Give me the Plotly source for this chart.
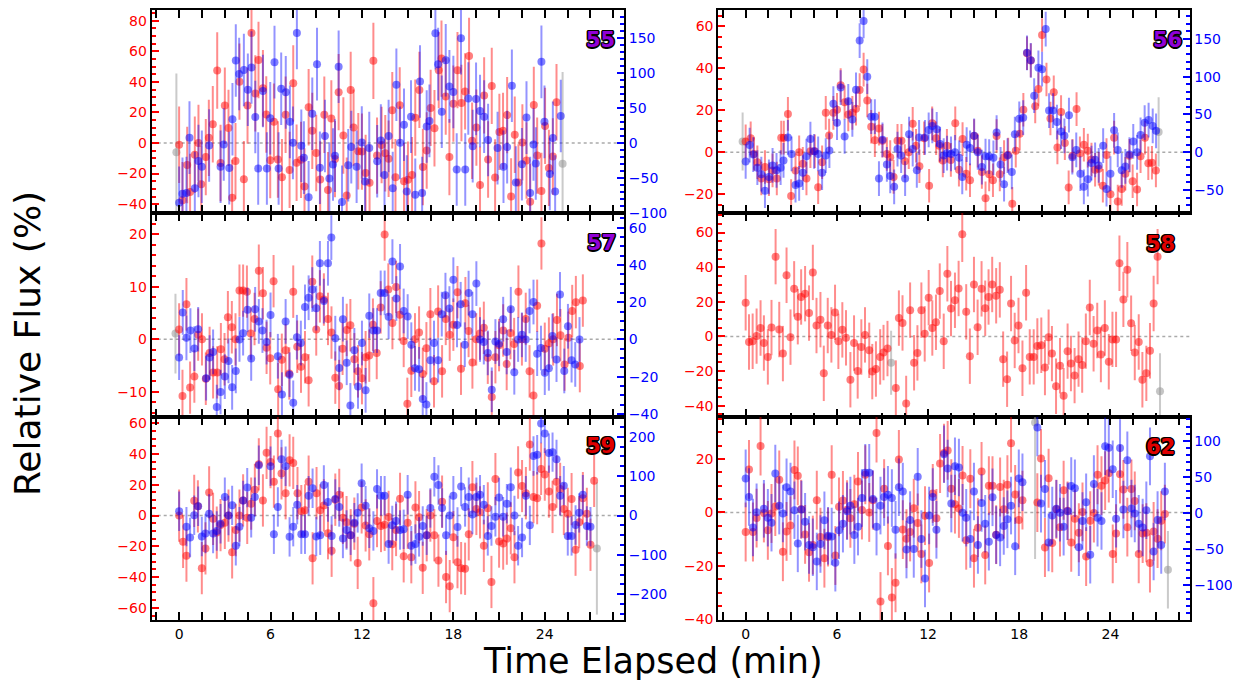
import plotly.graph_objects as go

# ---------------- data (time in min, relative flux in %) ----------------
PANELS = ["55", "56", "57", "58", "59", "62"]

P55_RED_T = [0.0,0.22,0.53,0.72,1.03,1.27,1.45,1.75,1.95,2.21,2.5,2.72,3.0,3.24,3.48,3.7,3.96,4.25,4.49,4.75,5.0,5.21,5.5,5.72,5.98,6.22,6.48,6.75,6.99,7.25,7.49,7.71,8.0,8.23,8.5,8.74,9.0,9.26,9.53,9.77,9.99,10.23,10.47,10.78,11.0,11.26,11.45,11.76,12.0,12.24,12.5,12.75,12.99,13.29,13.53,13.75,13.99,14.2,14.48,14.76,15.02,15.29,15.5,15.77,16.0,16.25,16.51,16.76,17.04,17.22,17.5,17.74,18.0,18.27,18.53,18.77,19.03,19.23,19.51,19.75,20.02,20.28,20.52,20.74,21.02,21.26,21.53,21.79,22.03,22.27,22.53,22.8,23.04,23.28,23.5,23.78,24.02,24.27,24.53,24.77]
P55_RED_F = [-1.1,-37.4,-14.4,-32,-7.7,0,-27,-9.2,3.4,12.3,47.5,-13.1,24.5,9.9,-35.9,-11.8,40.2,-23.7,24.5,72,32.5,54.4,35.9,18.7,-11.2,14,-10.8,-22.4,18.5,-17.6,39.1,-12.9,-11,-28.4,23.4,8,-6.5,-23.9,18.5,-30.8,16.1,-10.5,33.3,4.9,-34.4,34.8,10.1,-5.4,-5.6,-19.6,-26,53.8,-8.2,-1.3,-6.7,-10.3,21.5,-22.4,24.7,-25,-24,-21,16.6,34.8,-15.7,-4.9,23,9.7,47.7,55.3,30.5,-9.2,25.8,47.7,26.2,33.8,57,1.5,10.1,-27.5,31.2,-10.8,37.4,-22.6,7.3,8,18.3,-35,5.4,-25.8,0.4,-11.4,-38.5,24.9,-8.2,-31.4,11.2,-16.3,-8.8,26.7]
P55_BLUE_T = [0.0,0.22,0.48,0.68,1.03,1.27,1.49,1.97,2.72,2.93,3.29,3.5,3.72,3.94,4.25,4.51,4.75,5.0,5.19,5.5,5.76,5.98,6.26,6.53,6.7,7.0,7.27,7.47,7.73,8.02,8.19,8.5,8.74,9.05,9.24,9.57,9.86,10.1,10.23,10.47,10.69,11.1,11.3,11.65,11.99,12.2,12.48,13.0,13.24,13.48,13.75,14.02,14.26,14.5,14.76,14.94,15.22,15.5,15.81,15.95,16.25,16.43,16.82,17.0,17.24,17.5,17.74,18.0,18.22,18.5,18.78,18.98,19.27,19.49,19.75,20.02,20.28,20.9,21.29,21.53,21.84,22.1,22.5,22.8,23.04,23.26,23.41,23.78,23.98,24.33,24.53,24.68,25.05]
P55_BLUE_F = [-86,-72.9,-71.9,7.5,-64.9,-25.9,-34.3,-3.8,-34.3,-2.4,-36.2,33.9,118,98.7,104.4,76.2,108,37.1,-36.7,74.3,-36.7,35.3,115.7,-36.7,77.6,72.4,30.1,0,157.5,-4.2,-21.2,-78,41.8,112.8,-35.7,9.9,-51.2,-31,-18.3,109,-84.6,-32,-6.1,-34.3,0.5,-55.5,-7.5,-26.3,3.3,-46,9.9,-64.9,83.2,0,25.9,-69.6,37.6,-74.3,87.9,-71.9,23.5,31.5,157,112.8,44.7,118.5,80.9,72.9,-38.1,150,-38.1,63.5,-4.7,63,45.6,37.6,4.2,-7.5,-34.3,-6.1,81.8,-56.9,-30.6,36.2,-71.9,-2.4,-29.6,116.1,30.1,-44.7,7.1,-69.6,38.6]
P55_GRAY_T = [-0.18, 25.17]
P55_GRAY_F = [-6.0, -13.5]
P55_GRAY_E = [51.6, 60.0]

P56_RED_T = [0.0,0.33,0.55,0.77,1.03,1.27,1.53,1.77,2.05,2.34,2.51,2.78,2.99,3.28,3.52,3.76,4.0,4.26,4.55,4.77,5.03,5.27,5.49,5.77,6.01,6.25,6.51,6.75,7.02,7.26,7.5,7.76,8.0,8.26,8.5,8.77,9.0,9.29,9.51,9.73,9.99,10.25,10.47,10.73,10.99,11.21,11.43,
             11.74,12.07,12.27,12.53,12.75,12.97,13.24,13.5,13.79,14.03,14.27,14.51,14.76,15.03,15.27,15.54,15.78,16.02,16.27,16.51,16.72,17.0,17.27,17.54,17.77,18.03,18.27,18.51,18.76,19.05,19.26,19.5,19.79,20.05,20.27,20.51,20.75,21.0,21.25,21.5,21.77,21.99,22.25,22.51,22.75,22.99,23.23,23.5,23.74,24.0,24.24,24.48,24.74,24.98,25.25,25.46,25.75,25.98,26.27,26.49,26.73,26.99]
P56_RED_F = [5.2,6.7,-0.8,-4.7,-12.5,-7,-12.8,-8.6,-12.5,7,7,18.3,-20.8,-8.6,0,-5.5,-12.5,0.5,0.5,-16.6,-4.7,18.8,8,18.8,20.3,32,23.8,18,18.8,20.8,29.7,39.4,24.7,12.2,5.8,11.3,5.5,-0.8,-2.3,-11.7,5.5,5.5,-4.2,0,13.6,3.1,-6.6,
             6.7,-15.9,13.8,6.7,3.1,-3.9,3.1,-3.6,13.8,-8.3,6.3,-10.2,-13.3,7.8,0.8,-9.4,-21.9,-10.5,-13.3,7.8,-10.5,-2.3,-1.1,-24.5,0.8,8.9,20.3,47.2,43.8,21.9,30.2,55.9,34.7,16.1,28.6,2.3,19.2,4.4,-16.7,-1.6,20.6,-0.5,3.6,0.8,-3.4,-8.3,-7.8,-15.9,-1.3,-20,7,-23.4,-17.5,-10.2,-1.6,-13.8,-17.7,-1.9,7,-5.2,-5,-8.6]
P56_BLUE_T = [0.0,0.26,0.5,0.77,1.03,1.27,1.53,1.77,2.03,2.3,2.49,2.78,3.02,3.28,3.52,3.76,4.0,4.26,4.5,4.77,5.03,5.27,5.51,5.77,6.01,6.25,6.51,6.75,7.02,7.26,7.5,7.76,8.0,8.26,8.5,8.77,9.0,9.29,9.51,9.77,9.99,10.23,10.49,10.75,10.99,11.26,11.41,
              11.8,12.04,12.28,12.57,12.79,13.03,13.25,13.51,13.77,14.05,14.25,14.54,14.76,15.03,15.27,15.54,15.78,16.02,16.3,16.51,16.77,17.0,17.23,17.51,17.71,18.0,18.26,18.51,18.76,18.98,19.26,19.5,19.74,19.96,20.22,20.48,20.75,20.97,21.27,21.49,21.75,22.02,22.25,22.51,22.75,22.99,23.23,23.52,23.74,24.0,24.24,24.48,24.74,24.98,25.25,25.5,25.75,25.98,26.25,26.51,26.78,27.0]
P56_BLUE_F = [-12.2,9.6,-3,-20.4,-29.1,-50.9,-32.6,-17.4,-23.9,-20.4,-10.9,19.6,-2.2,-43.5,-41.3,-27,-5.2,17.4,1.3,-2.2,-27,-4.3,2.2,64.3,39.1,85.7,20.9,67.4,43.5,82.6,147.8,173.9,100,47,47,-34.8,16.5,-16.1,-31.3,-45.7,4.3,-4.3,-34.8,23.9,4.3,-23.9,19.6,
              19.6,29.6,34.8,30.4,10.9,-4.3,-1.3,-2.2,0,-7.4,-32.6,10,5.7,21.7,0,-19.6,-5.2,-5.7,-7.4,26.1,-16.1,-42.2,-4.3,-26.1,23.9,44.3,45.7,131.7,121.7,74.8,111.7,110,163,55.2,55.2,40,27.4,21.7,49.1,-6.5,3,-28.3,-45.7,-35.7,-14.3,-10,-17.4,8.7,-48.7,-28.3,29.1,3,-23.9,-18.7,-3,14.3,0,23,39.1,42.6,34.8,28.3]
P56_GRAY_T = [-0.2, 27.17]
P56_GRAY_F = [5.2, 9.7]
P56_GRAY_E = [13.8, 16.5]

P57_RED_T = [0.0,0.22,0.48,0.72,1.0,1.25,1.5,1.75,2.0,2.23,2.5,2.74,2.98,3.2,3.46,3.7,3.96,4.2,4.45,4.7,4.95,5.23,5.5,5.74,5.98,6.2,6.5,6.74,6.99,7.23,7.49,7.75,8.0,8.26,8.5,8.74,9.0,9.24,9.5,9.77,10.0,10.25,10.5,10.73,11.0,11.24,11.5,11.74,12.0,12.24,12.48,12.72,12.97,13.23,13.49,13.73,14.0,14.24,14.48,14.74,14.98,15.24,15.48,15.75,15.99,16.23,16.49,16.73,17.0,17.26,17.5,17.76,18.0,18.27,18.5,18.79,19.0,19.25,19.5,19.75,20.0,20.26,20.52,20.76,21.0,21.27,21.5,21.75,21.99,22.27,22.5,22.75,23.0,23.26,23.5,23.78,24.0,24.27,24.55,24.8,25.03,25.3,25.55,25.8,26.04,26.3,26.5]
P57_RED_F = [1.9,-10.8,6.7,-9.2,-7.1,0.9,0,-7.5,-2.6,-6.3,-6.3,-1.9,-3.8,4.2,2.3,0,9.3,9.3,9.1,1.1,3.9,13.1,8.8,-1.6,-3.6,11.1,-9.5,-3.9,-2.1,-6.5,9.1,-1.4,-5.2,-3.4,-7.8,11.0,1.9,8.2,7.6,3.9,1.3,-7.3,-8.9,-1.8,1.8,2.7,-3.8,-6.1,-7.4,-3.4,-3.1,2.8,-2.6,6.1,20.0,9.5,3.1,10.0,4.7,-0.3,-12.3,-6.0,0,1.3,-6.6,-1.7,4.8,-8.0,5.3,-6.1,3.9,0.9,2.8,9.0,-5.6,6.9,1.6,-4.4,0,1.1,2.2,-3.5,-11.0,-3.4,-1.1,1.7,-4.7,1.2,-0.9,9.1,0,3.9,-6.1,-10.7,6.4,18.3,-1.8,-0.8,0,3.7,0.8,-4.8,0.3,5.4,7.1,-5.1,7.4]
P57_BLUE_T = [0.0,0.24,0.48,0.74,1.0,1.25,1.77,2.0,2.23,2.47,2.72,3.0,3.24,3.48,3.72,3.96,4.2,4.49,4.73,4.99,5.23,5.47,5.74,6.0,6.48,6.75,6.99,7.25,7.49,7.73,7.99,8.26,8.5,8.74,9.0,9.24,9.5,9.77,9.99,10.25,10.51,10.75,11.0,11.24,11.5,11.74,12.0,12.24,12.48,12.75,12.99,13.23,13.49,13.75,14.0,14.26,14.5,14.74,15.0,15.24,15.48,15.75,15.99,16.23,16.49,16.73,17.0,17.24,17.48,17.74,18.0,18.24,18.48,18.75,19.0,19.25,19.51,19.75,20.0,20.26,20.52,20.76,21.0,21.27,21.5,21.77,22.0,22.25,22.5,22.75,23.0,23.26,23.5,23.75,24.0,24.27,24.5,24.77,25.0,25.28,25.52,25.76,26.0,26.28]
P57_BLUE_F = [-9.7,14.5,0.9,4.8,-4.9,5.5,-20.8,-9.7,-6.7,-36.3,-28.2,-19.9,-11.5,-25.7,-16.9,0,3.4,15.9,-10.2,16.2,9.7,4.8,-1.4,13.2,-9.0,-29.6,9.7,-18.9,-34.0,1.2,-1.9,17.5,22.4,26.8,16.8,40.9,20.6,40.9,54.7,0.7,-15.3,10.9,-12.5,-35.4,-5.8,-25.2,-1.9,-27.3,12.7,4.8,4.8,25.0,25.0,12.2,41.8,22.0,39.2,15.3,12.3,-2.8,-15.5,-16.0,-31.9,-34.9,-11.1,-1.9,-11.1,13.6,23.8,16.6,32.1,7.8,18.9,-2.8,24.9,13.6,30.0,0,-1.4,-7.2,-27.0,-1.1,-2.3,10.9,-6.7,16.2,-17.6,0,2.5,0,15.3,20.1,-7.6,-4.6,-17.8,-15.5,1.8,-10.8,24.2,-16.9,7.1,-11.1,-13.4,0]
P57_GRAY_T = [-0.24]
P57_GRAY_F = [1.1]
P57_GRAY_E = [7.6]

P58_RED_T = [0.0,0.22,0.46,0.72,0.98,1.2,1.46,1.7,1.97,2.21,2.45,2.69,2.95,3.19,3.43,3.65,3.91,4.17,4.42,4.66,4.92,5.14,5.4,5.64,5.88,6.1,6.36,6.6,6.89,7.13,7.37,7.61,7.85,8.13,8.33,8.57,8.85,9.07,9.33,9.88,10.08,10.32,10.56,10.82,11.08,11.3,11.56,11.78,12.04,12.28,12.52,12.77,13.03,13.27,13.51,13.77,14.01,14.25,14.51,14.75,15.02,15.26,15.52,15.76,15.98,16.22,16.48,16.72,16.94,17.2,17.46,17.7,17.95,18.21,18.45,18.69,18.95,19.19,19.45,19.69,19.93,20.15,20.42,20.68,20.92,21.18,21.4,21.64,21.9,22.14,22.38,22.64,22.89,23.13,23.37,23.63,23.89,24.13,24.37,24.59,24.85,25.11,25.36,25.6,25.86,26.1,26.36,26.6,26.84,27.1]
P58_RED_F = [19.5,-3.2,-2.8,0.2,4.9,-3.8,-11.8,5.1,46.1,4.0,-9.9,35.3,-0.4,27.5,11.4,22.8,24.7,13.5,37.0,6.3,9.7,-21.3,6.3,0.9,13.9,-2.8,3.8,-0.8,-25.0,-3.8,-19.9,-6.1,0.9,-8.0,-20.3,-18.8,-11.8,-9.3,-7.0,-29.8,10.6,7.8,-38.7,15.2,-15.2,-9.5,15.2,1.5,22.4,4.9,8.2,26.2,-2.8,36.2,16.1,20.9,27.7,59.0,14.2,-11.4,30.0,5.3,27.5,16.3,22.8,30.0,23.5,26.9,-13.1,-24.7,19.0,-2.3,6.3,-18.4,25.2,-11.8,-11.8,-5.5,-5.1,-18.0,-0.4,-9.9,-28.8,-16.9,-34.2,-8.5,-15.6,-22.6,-13.1,-16.5,-2.7,16.7,-4.2,3.4,-10.4,4.9,-14.6,-1.7,-1.7,42.3,21.4,38.5,7.6,-9.3,-3.2,-25.0,-21.3,-8.3,19.0,46.1]
P58_BLUE_T = []
P58_BLUE_F = []
P58_GRAY_T = [9.57, 27.26]
P58_GRAY_F = [-15.2, -31.7]
P58_GRAY_E = [18.5, 22.0]

P59_RED_T = [0.0,0.26,0.48,0.99,1.23,1.49,1.73,1.97,2.23,2.47,2.72,3.0,3.24,3.48,3.72,3.96,4.2,4.47,4.73,4.97,5.23,5.5,5.74,6.0,6.22,6.48,6.72,6.99,7.25,7.49,7.77,8.02,8.26,8.5,8.76,9.02,9.26,9.5,9.77,10.01,10.25,10.51,10.75,10.99,11.26,11.5,11.72,11.98,12.24,12.48,12.75,12.99,13.25,13.49,13.75,13.99,14.24,14.5,14.74,15.0,15.24,15.51,15.75,15.99,16.25,16.49,16.75,17.02,17.26,17.52,17.76,18.0,18.27,18.51,18.77,19.01,19.25,19.51,19.75,20.0,20.26,20.5,20.76,21.0,21.27,21.51,21.77,22.01,22.25,22.51,22.76,23.02,23.26,23.5,23.76,24.0,24.27,24.51,24.77,25.01,25.25,25.51,25.76,26.02,26.26,26.5,26.76,27.0,27.24]
P59_RED_F = [0,-17.1,-26.1,9.6,6.0,-34.2,-21.4,15.0,-2.1,-11.1,-6.2,-4.7,0,-23.9,-9.4,0,9.8,-1.5,7.7,16.7,33.3,9.8,40.8,34.8,22,53.4,27.4,14.5,35.9,34.2,14.5,2.8,3.4,22,-27.8,14.5,3.4,6.6,-11.5,-22.9,10.3,13.5,-1.5,-4.3,-12.8,-5.3,-30.8,5.3,-6.4,-12.2,-57,-3.6,-6.8,-6.0,-0.9,-18.6,-9.4,10.9,-26.5,-4.7,-27.1,5.3,-1.1,-34,-12.8,0,-12.8,-29.3,9.0,-40,-45.9,-14.1,-30.3,-34.2,-34.6,-12.2,18.4,4.3,2.1,-19.7,4.7,-43.2,23.7,-16.9,-18.2,-15,-8.3,-27.1,28,19.2,14.5,46.2,12,11.3,30.3,26.7,15.6,5.6,22,17.3,4.3,1.1,10.7,-22.2,-4.3,11.3,1.1,-19,22.6]
P59_BLUE_T = [0.0,0.48,0.72,0.99,1.25,1.49,1.73,1.97,2.23,2.47,2.72,3.0,3.24,3.48,3.72,3.96,4.2,4.47,4.73,4.97,5.23,6.0,6.22,6.48,6.72,6.99,7.25,7.49,7.75,8.02,8.26,8.5,8.76,9.0,9.26,9.5,9.77,10.01,10.25,10.51,10.75,10.99,11.26,11.5,11.72,11.98,12.24,12.48,12.75,12.99,13.25,13.49,13.75,13.99,14.24,14.5,14.74,15.0,15.24,15.51,15.75,15.99,16.25,16.49,16.75,17.02,17.26,17.52,17.76,18.0,18.27,18.51,18.77,19.01,19.25,19.51,19.75,20.0,20.26,20.5,20.76,21.0,21.27,21.51,21.77,22.01,22.25,22.51,22.76,23.02,23.26,23.5,23.76,24.0,24.27,24.51,24.77,25.01,25.25,25.51,25.76,26.02,26.26,26.5,26.76,27.0]
P59_BLUE_F = [10.8,-28.3,-55.8,0.8,23.3,-53.3,-45.8,4.2,-45.8,-39.2,-20.8,46.7,0,25.8,-76.7,-28.3,38.3,70.8,-5.8,46.7,127.5,125,-47.5,21.7,142.5,125,-54.2,-28.3,27.5,-47.5,-47.5,50,69.2,-53.3,-50,77.5,34.2,-51.7,41.7,21.7,-58.3,-36.7,-50,-18.3,6.7,81.7,25,-32.5,-39.2,67.5,50,50,-72.5,-25,-14.2,-36.7,-35,52.5,-76.7,-72.5,-54.2,-26.7,-50,19.2,98.3,77.5,19.2,-50,0,50,-29.2,73.3,21.7,46.7,2.5,46.7,52.5,27.5,-51.7,-26.7,-3.3,45.8,-3.3,30,71.7,0,-76.7,-55.8,50,-25,150.8,154.2,233.3,208.3,158.3,160.8,142.5,50,75.8,-51.7,-51.7,-24.2,6.7,52.5,-26.7,-28.3]
P59_GRAY_T = [27.42]
P59_GRAY_F = [-21.4]
P59_GRAY_E = [43.0]

P62_RED_T = [0.0,0.22,0.48,0.72,0.98,1.2,1.46,1.7,1.95,2.21,2.45,2.69,2.95,3.21,3.43,3.65,3.91,4.17,4.42,4.68,4.92,5.18,5.42,5.66,5.9,6.14,6.4,6.67,6.89,7.15,7.39,7.65,7.87,8.13,8.37,8.61,8.87,9.11,9.36,9.62,9.86,10.08,10.34,10.58,10.82,11.06,11.32,11.56,11.8,12.07,12.31,12.55,12.79,13.05,13.29,13.53,13.77,14.03,14.27,14.51,14.78,15.02,15.28,15.52,15.76,16.0,16.24,16.48,16.74,16.98,17.22,17.46,17.73,17.97,18.21,19.19,19.43,19.69,19.93,20.17,20.44,20.68,20.92,21.18,21.42,21.66,21.92,22.16,22.4,22.67,22.91,23.15,23.41,23.65,23.89,24.15,24.37,24.63,24.85,25.11,25.38,25.6,25.86,26.12,26.36,26.6,26.84,27.1,27.34,27.58]
P62_RED_F = [-7.3,16.1,-7.3,-2.1,24.8,-0.2,-6.7,-0.4,2.2,12.2,-14.7,-7.1,-4.9,15.9,13.7,1.2,-8.2,-14.9,-12.2,4.6,-9.2,-17.1,-9.2,14.1,-16.1,2.1,4.5,1.0,-2.2,3.1,11.6,0.9,14.1,0,4.6,29.7,-33.3,8.9,-12.5,-31.8,-26.3,19.8,-6.4,-9.8,-7.3,1.6,-3.9,-15.5,-1.2,-18.9,7.1,-2.2,18.3,22.2,23.2,8.9,3.1,1.5,13.8,-10.4,12.6,-17.1,-5.7,15.3,-15.9,10.0,10.0,-8.3,9.5,1.2,10.4,25.9,6.7,-2.8,4.6,3.7,20.2,-13.1,12.8,-11.4,1.2,-5.5,8.3,0.6,-11.2,-2.4,-7.6,0.2,-16.5,-3.1,-0.2,14.1,10.0,11.9,14.7,-15.5,-7.9,14.3,8.6,-5.5,8.8,4.3,-15.5,-7.9,-7.6,-18.9,-7.1,-9.8,-3.1,-0.6]
P62_BLUE_T = [0.0,0.22,0.48,0.72,1.2,1.46,1.7,1.95,2.21,2.45,2.69,2.95,3.21,3.43,3.67,3.91,4.17,4.42,4.68,4.92,5.18,5.42,5.66,5.9,6.14,6.4,6.67,6.89,7.15,7.39,7.65,7.87,8.13,8.37,8.61,8.87,9.11,9.36,9.62,9.86,10.08,10.34,10.58,10.82,11.06,11.32,11.56,11.8,12.07,12.31,12.55,13.05,13.29,13.53,13.77,14.03,14.27,14.51,14.78,15.02,15.28,15.52,15.76,16.0,16.24,16.48,16.74,16.98,17.22,17.46,17.73,17.97,18.21,19.19,19.43,19.69,19.93,20.17,20.44,20.68,20.92,21.18,21.42,21.66,21.92,22.16,22.4,22.67,22.91,23.15,23.41,23.65,23.89,24.15,24.37,24.63,24.85,25.11,25.38,25.6,25.86,26.12,26.36,26.6,26.84,27.1,27.34,27.58]
P62_BLUE_F = [47.9,21.9,-20.5,0.9,5.5,-6.8,-13.7,54.8,10,-0.9,35.6,29.7,3.7,-42.5,4.6,-12.3,-44.7,-47.9,-67.6,-43.4,-10.5,-32,-32.9,-69.4,-24.2,-15.1,2.3,10,-31,-19.2,20.5,55.7,55.7,19.2,-19.2,10,21.9,25.1,20.5,-23.7,35.6,29.7,-51.1,-10,-50.2,50.2,-36.5,-91.3,-3.7,21.9,-23.7,81.3,61.6,12.8,64.8,63,0,-6.8,-36.5,29.7,-44.7,13.7,-15.1,-40.2,21.5,-31,-34.2,-18.3,-9.1,10,-46.6,47.9,42.5,118.7,12.8,33.3,-41.1,-3.7,5.5,0,-19.2,2.3,37.4,34.2,-47.9,-11.4,14.6,-58.4,40.2,-6.8,-11.4,92.7,90.4,60.7,-8.2,90,4.6,73.1,5.9,-0.9,-15.1,-20.5,3.7,78.5,-53.9,-10,-44.7,29.7]
P62_GRAY_T = [19.04, 27.78]
P62_GRAY_F = [33.6, -21.4]
P62_GRAY_E = [51.0, 14.5]

# typical 1-sigma uncertainties per panel (red: left axis, blue: right axis)
RED_ERR = [25, 8, 5, 16, 17, 11]
BLUE_ERR = [52, 23, 12, None, 50, 40]

SERIES = [
    (P55_RED_T, P55_RED_F, P55_BLUE_T, P55_BLUE_F, P55_GRAY_T, P55_GRAY_F, P55_GRAY_E),
    (P56_RED_T, P56_RED_F, P56_BLUE_T, P56_BLUE_F, P56_GRAY_T, P56_GRAY_F, P56_GRAY_E),
    (P57_RED_T, P57_RED_F, P57_BLUE_T, P57_BLUE_F, P57_GRAY_T, P57_GRAY_F, P57_GRAY_E),
    (P58_RED_T, P58_RED_F, P58_BLUE_T, P58_BLUE_F, P58_GRAY_T, P58_GRAY_F, P58_GRAY_E),
    (P59_RED_T, P59_RED_F, P59_BLUE_T, P59_BLUE_F, P59_GRAY_T, P59_GRAY_F, P59_GRAY_E),
    (P62_RED_T, P62_RED_F, P62_BLUE_T, P62_BLUE_F, P62_GRAY_T, P62_GRAY_F, P62_GRAY_E),
]

# ---------------- axes setup ----------------
X_RANGE = [-1.8, 29.2]
LEFT_RANGES = [[-45.8, 87.1], [-28.9, 67.8], [-14.8, 24.1], [-46.5, 71.3], [-67.9, 64.1], [-40.2, 35.7]]
RIGHT_RANGES = [[-100.5, 190.4], [-80.4, 188.3], [-41.6, 67.9], None, [-265, 250], [-149, 133.3]]
LEFT_DTICK = [20, 20, 10, 20, 20, 20]
LEFT_MINOR = [5, 5, 2, 5, 5, 5]
RIGHT_DTICK = [50, 50, 20, None, 100, 50]
RIGHT_MINOR = [10, 10, 5, None, 25, 10]
LABEL_COLORS = ["#9000d8", "#9000d8", "#9000d8", "#e00000", "#e00000", "#e00000"]

# the page body has an 8px margin, so the figure is placed 8px right/down
OFF = 8
W, H = 1240 - OFF, 693 - OFF


def fx(px):
    return (px - OFF) / W


def fy(py):
    return min(1.0, 1 - (py - OFF) / H)


COL_X = [[fx(151.7), fx(624.0)], [fx(718.3), fx(1189.5)]]
ROW_PX = [[7.3, 214.0], [214.0, 421.0], [421.0, 627.0]]
ROW_Y = [[fy(b), fy(t)] for t, b in ROW_PX]
LABEL_PX = [(600, 38), (1167, 38), (601, 244), (1160, 245), (600, 450), (1160, 451)]

RED = "rgba(255,0,0,0.5)"
RED_E = "rgba(255,0,0,0.45)"
BLUE = "rgba(0,0,255,0.5)"
BLUE_E = "rgba(0,0,255,0.42)"
GRAY = "rgba(150,150,150,0.55)"
GRAY_E = "rgba(150,150,150,0.5)"
FONT = "DejaVu Sans"

fig = go.Figure()
layout = dict(
    width=W, height=H, margin=dict(l=0, r=0, t=0, b=0),
    paper_bgcolor="white", plot_bgcolor="white", showlegend=False,
    font=dict(family=FONT, size=14, color="black"),
)
shapes = []
annotations = []

for i, pid in enumerate(PANELS):
    r, c = divmod(i, 2)
    xn, yl, yr = i + 1, 2 * i + 1, 2 * i + 2
    xref = "x" if xn == 1 else f"x{xn}"
    ylref = "y" if yl == 1 else f"y{yl}"
    yrref = f"y{yr}"

    layout["xaxis" if xn == 1 else f"xaxis{xn}"] = dict(
        domain=COL_X[c], anchor=ylref, range=X_RANGE, tick0=0, dtick=6,
        ticks="inside", ticklen=8, tickwidth=2, tickcolor="black",
        showline=True, linecolor="black", linewidth=2, mirror="allticks",
        showgrid=False, zeroline=False, showticklabels=(r == 2),
        tickfont=dict(family=FONT, size=14, color="black"),
        minor=dict(ticks="inside", ticklen=4, tickwidth=1.5, tickcolor="black",
                   tick0=0, dtick=1.5, showgrid=False),
    )
    layout["yaxis" if yl == 1 else f"yaxis{yl}"] = dict(
        domain=ROW_Y[r], anchor=xref, range=LEFT_RANGES[i], tick0=0, dtick=LEFT_DTICK[i],
        ticks="inside", ticklen=7, tickwidth=2, tickcolor="red",
        tickfont=dict(family=FONT, size=14, color="red"),
        showline=True, linecolor="black", linewidth=2, mirror=False,
        showgrid=False, zeroline=False,
        minor=dict(ticks="inside", ticklen=4, tickwidth=1.5, tickcolor="red",
                   tick0=0, dtick=LEFT_MINOR[i], showgrid=False),
    )
    if RIGHT_RANGES[i] is not None:
        layout[f"yaxis{yr}"] = dict(
            overlaying=ylref, side="right", anchor=xref, range=RIGHT_RANGES[i],
            tick0=0, dtick=RIGHT_DTICK[i], ticks="inside", ticklen=7, tickwidth=2,
            tickcolor="blue", tickfont=dict(family=FONT, size=14, color="blue"),
            showline=True, linecolor="black", linewidth=2,
            showgrid=False, zeroline=False,
            minor=dict(ticks="inside", ticklen=4, tickwidth=1.5, tickcolor="blue",
                       tick0=0, dtick=RIGHT_MINOR[i], showgrid=False),
        )
    else:
        layout[f"yaxis{yr}"] = dict(
            overlaying=ylref, side="right", anchor=xref, range=LEFT_RANGES[i],
            ticks="", showticklabels=False, showline=True, linecolor="black",
            linewidth=2, showgrid=False, zeroline=False,
        )

    shapes.append(dict(type="line", xref=f"{xref} domain", yref=ylref, x0=0, x1=1, y0=0, y1=0,
                       line=dict(color="#aaaaaa", width=1.5, dash="dot"), layer="below"))

    rt, rf, bt, bf, gt, gf, ge = SERIES[i]
    fig.add_trace(go.Scatter(
        x=gt, y=gf, mode="markers", xaxis=xref, yaxis=ylref, hoverinfo="skip",
        marker=dict(size=8, color=GRAY, line=dict(width=0)),
        error_y=dict(type="data", array=ge, color=GRAY_E, thickness=2, width=0)))
    fig.add_trace(go.Scatter(
        x=rt, y=rf, mode="markers", xaxis=xref, yaxis=ylref, hoverinfo="skip",
        marker=dict(size=8, color=RED, line=dict(width=0)),
        error_y=dict(type="constant", value=RED_ERR[i], color=RED_E, thickness=2, width=0)))
    if len(bt) > 0:
        fig.add_trace(go.Scatter(
            x=bt, y=bf, mode="markers", xaxis=xref, yaxis=yrref, hoverinfo="skip",
            marker=dict(size=8, color=BLUE, line=dict(width=0)),
            error_y=dict(type="constant", value=BLUE_ERR[i], color=BLUE_E, thickness=2, width=0)))

    lx, ly = LABEL_PX[i]
    annotations.append(dict(
        text=pid, x=fx(lx), y=fy(ly), xref="paper", yref="paper", showarrow=False,
        xanchor="center", yanchor="middle",
        font=dict(family=FONT, size=21, color=LABEL_COLORS[i], weight="bold",
                  shadow="1px 1px 0 #000, -1px -1px 0 #000, 1px -1px 0 #000, -1px 1px 0 #000, "
                         "1.5px 0 0 #000, -1.5px 0 0 #000, 0 1.5px 0 #000, 0 -1.5px 0 #000"),
    ))

annotations.append(dict(text="Time Elapsed (min)", x=fx(653), y=fy(669), xref="paper", yref="paper",
                        showarrow=False, xanchor="center", yanchor="middle",
                        font=dict(family=FONT, size=35, color="black")))
annotations.append(dict(text="Relative Flux (%)", x=fx(27), y=fy(347), xref="paper", yref="paper",
                        showarrow=False, xanchor="center", yanchor="middle", textangle=-90,
                        font=dict(family=FONT, size=36, color="black")))

layout["shapes"] = shapes
layout["annotations"] = annotations
fig.update_layout(**layout)
fig.write_html("out.html")
